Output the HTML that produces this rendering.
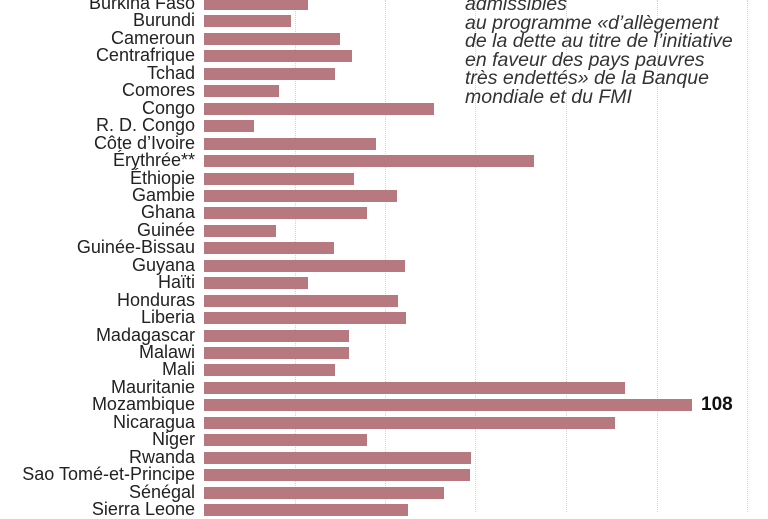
<!DOCTYPE html>
<html><head><meta charset="utf-8"><style>
body{margin:0;width:768px;height:512px;background:#fff;overflow:hidden;position:relative;font-family:"Liberation Sans",sans-serif}
.g{position:absolute;top:0;height:512px;width:0;border-left:1px dotted #d4d4d4}
.b{position:absolute;left:204px;height:12px;background:#b87880}
.l{position:absolute;right:573px;font-size:18px;line-height:18px;color:#222;white-space:nowrap}
.n{position:absolute;font-style:italic;font-size:19.5px;line-height:18.5px;color:#333;left:465px;top:-5px;white-space:nowrap}
</style></head><body>
<div class="g" style="left:295px"></div><div class="g" style="left:385px"></div><div class="g" style="left:475px"></div><div class="g" style="left:566px"></div><div class="g" style="left:657px"></div><div class="g" style="left:747px"></div>
<div class="n">admissibles<br>au programme «d’allègement<br>de la dette au titre de l’initiative<br>en faveur des pays pauvres<br>très endettés» de la Banque<br>mondiale et du FMI</div>
<div id="c"></div>
<div style="position:absolute;left:701px;top:394px;font-size:19px;font-weight:bold;color:#111">108</div>
<script>
var d=[["Burkina Faso",308],["Burundi",291],["Cameroun",340],["Centrafrique",352],["Tchad",335],["Comores",279],["Congo",434],["R. D. Congo",254],["Côte d’Ivoire",376],["Érythrée**",534],["Éthiopie",354],["Gambie",397],["Ghana",367],["Guinée",276],["Guinée-Bissau",334],["Guyana",405],["Haïti",308],["Honduras",398],["Liberia",406],["Madagascar",349],["Malawi",349],["Mali",335],["Mauritanie",625],["Mozambique",692],["Nicaragua",615],["Niger",367],["Rwanda",471],["Sao Tomé-et-Principe",470],["Sénégal",444],["Sierra Leone",408]];
var h="";d.forEach(function(r,i){var c=4+i*17.45;h+='<div class="b" style="top:'+(c-6)+'px;width:'+(r[1]-204)+'px"></div><div class="l" style="top:'+(c-10)+'px">'+r[0]+'</div>';});
document.getElementById("c").innerHTML=h;
</script>
</body></html>
